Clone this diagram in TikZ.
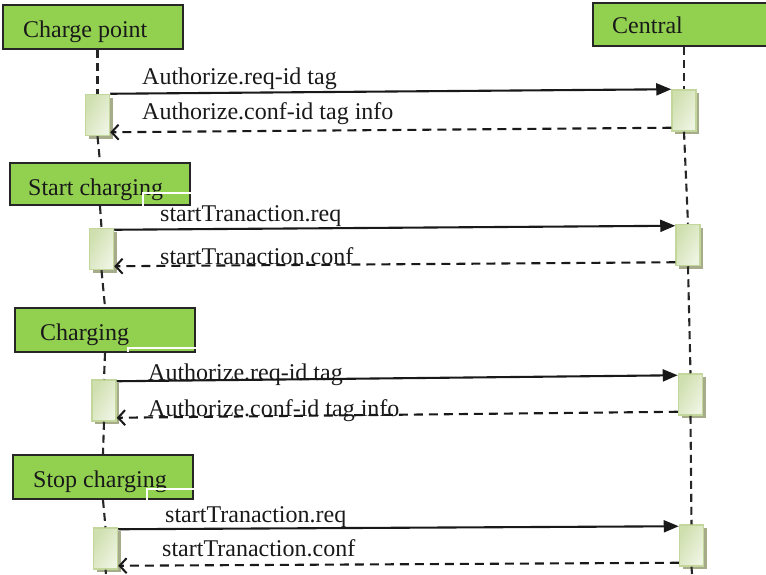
\documentclass[tikz,border=0pt]{standalone}
\usepackage{fontspec}
\setmainfont{Liberation Serif}
\usetikzlibrary{arrows.meta,shadows}
\definecolor{boxgreen}{HTML}{92D050}
\definecolor{actborder}{HTML}{C3D69B}
\definecolor{actedge}{HTML}{CFDFAE}
\definecolor{actmid}{HTML}{EEF4E2}
\definecolor{actshadow}{HTML}{A6AC8A}
\tikzset{
  actor/.style={draw=black!85, line width=2pt, fill=boxgreen, inner sep=0pt},
  actortext/.style={anchor=base west, inner sep=0pt, font=\fontsize{24}{28}\selectfont, text=black!90},
  actbox/.style={draw=actborder, line width=1.5pt, minimum width=24pt, minimum height=41pt,
    inner sep=0pt, shading=axis, left color=actedge, right color=actmid, shading angle=60,
    drop shadow={shadow xshift=3pt, shadow yshift=-3pt, fill=actshadow, opacity=1}},
  life/.style={line width=2.1pt, dash pattern=on 8pt off 5pt, black!85},
  callmsg/.style={line width=2.1pt, black!90, -{Triangle[length=15pt,width=12pt]}},
  retmsg/.style={line width=2.1pt, black!90, dash pattern=on 9pt off 6pt,
    -{Straight Barb[length=7pt,width=15pt,line width=2pt]}},
  msglabel/.style={anchor=base west, inner sep=0pt, font=\fontsize{24}{28}\selectfont, text=black!90},
  artifact/.style={white, line width=1.6pt}
}
\begin{document}
\begin{tikzpicture}[x=1pt,y=-1pt]
\useasboundingbox (0,0) rectangle (766,574);
% actors
\node[actor, minimum width=180pt, minimum height=44pt] (cp) at (93,27) {};
\node[actor, minimum width=177pt, minimum height=43pt] (central) at (681.5,24.5) {};
\node[actor, minimum width=180pt, minimum height=42pt] (start) at (100,184) {};
\node[actor, minimum width=180pt, minimum height=44pt] (charging) at (105,330) {};
\node[actor, minimum width=180pt, minimum height=44pt] (stop) at (103,477) {};
\node[actortext] (cpt) at (23,37) {Charge point};
\node[actortext] (centralt) at (612,33) {Central};
\node[actortext] (startt) at (28,195) {Start charging};
\node[actortext] (chargingt) at (40,340) {Charging};
\node[actortext] (stopt) at (33,487) {Stop charging};
% activation boxes
\node[actbox] (a1) at (97.5,115) {};
\node[actbox] (b1) at (684,110.5) {};
\node[actbox] (a2) at (101.5,249) {};
\node[actbox] (b2) at (688,245) {};
\node[actbox] (a3) at (104,400.5) {};
\node[actbox] (b3) at (690.5,394.5) {};
\node[actbox] (a4) at (105.5,548.5) {};
\node[actbox] (b4) at (691.5,545.5) {};
\coordinate (lbot) at (106,574);
\coordinate (rbot) at (692,574);
% lifelines
\draw[life] (a1.north |- cp.south) -- (a1.north);
\draw[life] (a1.south) -- (start.north);
\draw[life] (start.south) -- (a2.north);
\draw[life] (a2.south) -- (charging.north);
\draw[life] (charging.south) -- (a3.north);
\draw[life] (a3.south) -- (stop.north);
\draw[life] (stop.south) -- (a4.north);
\draw[life] (a4.south) -- (lbot);
\draw[life] (b1.north |- central.south) -- (b1.north);
\draw[life] (b1.south) -- (b2.north);
\draw[life] (b2.south) -- (b3.north);
\draw[life] (b3.south) -- (b4.north);
\draw[life] (b4.south) -- (rbot);
% artifacts (white strokes)
\draw[artifact] (start.east |- 0,193) -- (143,193) -- (143,231);
\draw[artifact] (charging.east |- 0,348) -- (128,348) -- (128,352);
\draw[artifact] (stop.east |- 0,489) -- (147,489) -- (147,530);
% messages
\draw[callmsg] (a1.north east) -- (b1.north west);
\draw[retmsg] ([yshift=4pt]b1.south west) -- ([yshift=4pt]a1.south east);
\draw[callmsg] ([yshift=-2pt]a2.north east) -- ([yshift=-2pt]b2.north west);
\draw[retmsg] ([yshift=4pt]b2.south west) -- ([yshift=4pt]a2.south east);
\draw[callmsg] ([yshift=-2pt]a3.north east) -- ([yshift=-2pt]b3.north west);
\draw[retmsg] ([yshift=4pt]b3.south west) -- ([yshift=4pt]a3.south east);
\draw[callmsg] ([yshift=-2pt]a4.north east) -- ([yshift=-2pt]b4.north west);
\draw[retmsg] ([yshift=4pt]b4.south west) -- ([yshift=4pt]a4.south east);
% labels
\node[msglabel] (l1) at (142,84) {Authorize.req-id tag};
\node[msglabel] (l2) at (142,119) {Authorize.conf-id tag info};
\node[msglabel] (l3) at (160,221) {startTranaction.req};
\node[msglabel] (l4) at (160,264) {startTranaction.conf};
\node[msglabel] (l5) at (148,380) {Authorize.req-id tag};
\node[msglabel] (l6) at (148,416) {Authorize.conf-id tag info};
\node[msglabel] (l7) at (165,522) {startTranaction.req};
\node[msglabel] (l8) at (162,556) {startTranaction.conf};
\end{tikzpicture}
\end{document}
